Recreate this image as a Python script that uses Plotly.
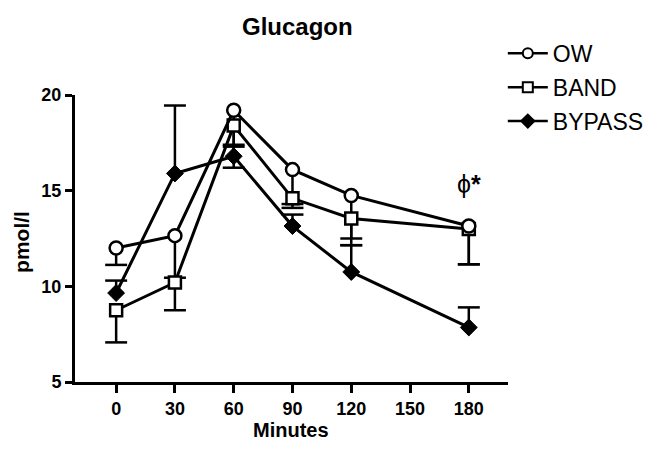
import plotly.graph_objects as go

minutes = [0, 30, 60, 90, 120, 180]
ow = [12.0, 12.65, 19.2, 16.1, 14.75, 13.15]
band = [8.75, 10.2, 18.4, 14.6, 13.55, 13.0]
bypass = [9.65, 15.9, 16.8, 13.15, 10.75, 7.85]

# one-sided SEM bars (GraphPad style): OW and BAND downward, BYPASS upward
ow_err_minus = [0.88, 2.2, 1.8, 1.8, 2.6, 2.0]
band_err_minus = [1.68, 1.45, 2.2, 0.5, 1.05, 1.85]
bypass_err_plus = [0.65, 3.55, 0.5, 0.6, 1.4, 1.05]

xticks = [0, 30, 60, 90, 120, 150, 180]
yticks = [5, 10, 15, 20]

FONT = "Liberation Sans, Arial, sans-serif"
CAP = 5.6  # half cap width in x-axis units (~11 px)


def err_path(xs, ys, errs, sign):
    px, py = [], []
    for x, y, e in zip(xs, ys, errs):
        end = y + sign * e
        px += [x, x, None, x - CAP, x + CAP, None]
        py += [y, end, None, end, end, None]
    return px, py


fig = go.Figure()

for xs, ys, es, sg in [(minutes, bypass, bypass_err_plus, 1),
                       (minutes, band, band_err_minus, -1),
                       (minutes, ow, ow_err_minus, -1)]:
    ex, ey = err_path(xs, ys, es, sg)
    fig.add_trace(go.Scatter(x=ex, y=ey, mode="lines", line=dict(color="black", width=2.5),
                             showlegend=False, hoverinfo="skip"))

fig.add_trace(go.Scatter(
    x=minutes, y=bypass, name="BYPASS", mode="lines+markers", showlegend=False,
    line=dict(color="black", width=3),
    marker=dict(symbol="diamond", size=13, color="black", line=dict(color="black", width=1)),
))
fig.add_trace(go.Scatter(
    x=minutes, y=band, name="BAND", mode="lines+markers", showlegend=False,
    line=dict(color="black", width=3),
    marker=dict(symbol="square", size=12, color="white", line=dict(color="black", width=2.5)),
))
fig.add_trace(go.Scatter(
    x=minutes, y=ow, name="OW", mode="lines+markers", showlegend=False,
    line=dict(color="black", width=3),
    marker=dict(symbol="circle", size=13, color="white", line=dict(color="black", width=2.5)),
))

# legend entries (smaller symbols as in the original)
for nm, sym, fill, grp in [("OW", "circle", "white", "a"), ("BAND", "square", "white", "b"),
                           ("BYPASS", "diamond", "black", "c")]:
    fig.add_trace(go.Scatter(
        x=[None], y=[None], name=nm, mode="lines+markers", legendgroup=grp,
        line=dict(color="black", width=2.5),
        marker=dict(symbol=sym, size=10, color=fill, line=dict(color="black", width=2)),
    ))

fig.add_annotation(x=180, y=15.35, xref="x", yref="y", text="ϕ<b>*</b>", showarrow=False,
                   font=dict(family=FONT, size=25, color="black"))

fig.add_annotation(x=0.513, y=1.237, xref="paper", yref="paper", text="<b>Glucagon</b>",
                   showarrow=False, xanchor="center", yanchor="middle",
                   font=dict(family=FONT, size=24, color="black"))
fig.add_annotation(x=0.499, y=-0.168, xref="paper", yref="paper", text="<b>Minutes</b>",
                   showarrow=False, xanchor="center", yanchor="middle",
                   font=dict(family=FONT, size=20, color="black"))
fig.add_annotation(x=-0.1224, y=0.488, xref="paper", yref="paper", text="<b>pmol/l</b>",
                   showarrow=False, xanchor="center", yanchor="middle", textangle=-90,
                   font=dict(family=FONT, size=21, color="black"))

fig.update_layout(
    width=650, height=449,
    margin=dict(l=67, r=150, t=87, b=75, autoexpand=False),
    paper_bgcolor="white", plot_bgcolor="white",
    font=dict(family=FONT, color="black"),
    showlegend=True,
    legend=dict(x=0.988, xanchor="left", y=1.22, yanchor="top", traceorder="grouped",
                font=dict(family=FONT, size=23, color="black"), itemwidth=40,
                tracegroupgap=1, bgcolor="rgba(0,0,0,0)"),
)

fig.update_xaxes(
    range=[-21, 200], tickmode="array", tickvals=xticks, ticktext=[str(v) for v in xticks],
    showline=True, linecolor="black", linewidth=3, ticks="outside", ticklen=8, tickwidth=3,
    tickcolor="black", showgrid=False, zeroline=False, automargin=False,
    tickfont=dict(family=FONT, size=18, color="black", weight="bold"),
)
fig.update_yaxes(
    range=[5, 20], tickmode="array", tickvals=yticks, ticktext=[str(v) for v in yticks],
    showline=True, linecolor="black", linewidth=3, ticks="outside", ticklen=7, tickwidth=3,
    tickcolor="black", showgrid=False, zeroline=False, automargin=False,
    tickfont=dict(family=FONT, size=18, color="black", weight="bold"),
)

fig.write_html("out.html")
